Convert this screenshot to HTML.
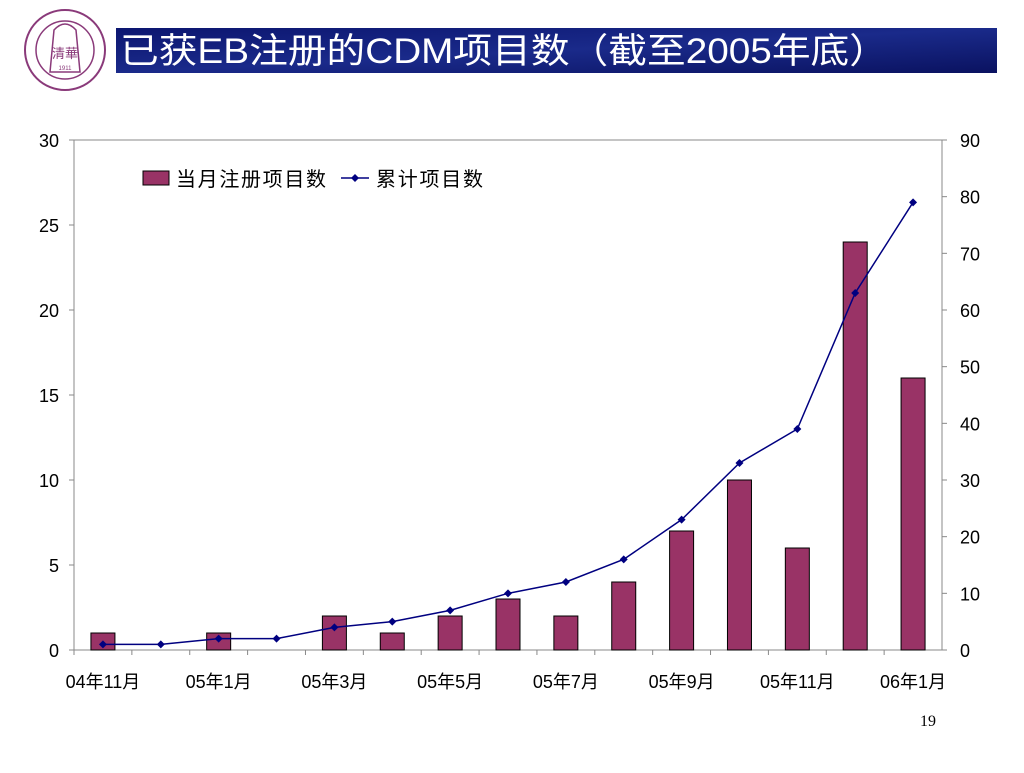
<!DOCTYPE html>
<html><head><meta charset="utf-8">
<style>
body{margin:0;width:1024px;height:768px;background:#fff;overflow:hidden;font-family:"Liberation Sans","Noto Sans CJK SC",sans-serif;}
svg text{font-family:"Liberation Sans","Noto Sans CJK SC",sans-serif;}
</style></head><body>
<svg width="1024" height="768">
<defs><linearGradient id="tg" x1="0" y1="0" x2="1" y2="1"><stop offset="0" stop-color="#0c1670"/><stop offset="0.5" stop-color="#1a2a8a"/><stop offset="1" stop-color="#0a1260"/></linearGradient></defs>
<g>
<circle cx="65" cy="50" r="40" fill="none" stroke="#8a3a7a" stroke-width="2"/>
<circle cx="65" cy="50" r="29" fill="none" stroke="#8a3a7a" stroke-width="1.5"/>
<path d="M50 72 L54 30 Q65 18 76 30 L80 72 Z" fill="none" stroke="#8a3a7a" stroke-width="1.5"/>
<text x="65" y="58" font-size="13" fill="#8a3a7a" text-anchor="middle">清華</text>
<text x="65" y="70" font-size="6" fill="#8a3a7a" text-anchor="middle">1911</text>
</g>
<rect x="116" y="28" width="881" height="45" fill="url(#tg)"/>
<text x="120" y="63" font-size="35" fill="#fff" textLength="768" lengthAdjust="spacingAndGlyphs">已获EB注册的CDM项目数（截至2005年底）</text>
<rect x="74" y="140" width="868" height="510" fill="none" stroke="#888" stroke-width="1"/>
<g id="chart"></g>
<g>
<rect x="143" y="171" width="26" height="14" fill="#993366" stroke="#000" stroke-width="1"/>
<text x="176" y="186" font-size="20" fill="#000" textLength="150">当月注册项目数</text>
<line x1="341" y1="178" x2="369" y2="178" stroke="#000080" stroke-width="1.5"/>
<path d="M355 174 L359 178 L355 182 L351 178Z" fill="#000080"/>
<text x="376" y="186" font-size="20" fill="#000" textLength="107">累计项目数</text>
</g>
<text x="936" y="726" font-size="16" fill="#000" text-anchor="end" style="font-family:'Liberation Serif',serif">19</text>
</svg>
<script>
const categories=["04年11月","04年12月","05年1月","05年2月","05年3月","05年4月","05年5月","05年6月","05年7月","05年8月","05年9月","05年10月","05年11月","05年12月","06年1月"];
const monthly=[1,0,1,0,2,1,2,3,2,4,7,10,6,24,16];
const cumulative=[1,1,2,2,4,5,7,10,12,16,23,33,39,63,79];
const leftTicks=[0,5,10,15,20,25,30];
const rightTicks=[0,10,20,30,40,50,60,70,80,90];
const L=74,R=942,T=140,B=650,NS="http://www.w3.org/2000/svg";
const step=(R-L)/categories.length;
const xc=i=>L+step*(i+0.5);
const yl=v=>B-(B-T)*v/30;
const yr=v=>B-(B-T)*v/90;
const g=document.getElementById('chart');
function el(t,a){const e=document.createElementNS(NS,t);for(const k in a)e.setAttribute(k,a[k]);g.appendChild(e);return e;}
leftTicks.forEach(v=>{el('line',{x1:L-5,x2:L,y1:yl(v),y2:yl(v),stroke:'#888'});
const t=el('text',{x:L-15,y:yl(v)+7,'font-size':18,'text-anchor':'end'});t.textContent=v;

});
rightTicks.forEach(v=>{el('line',{x1:R,x2:R+5,y1:yr(v),y2:yr(v),stroke:'#888'});
const t=el('text',{x:R+18,y:yr(v)+7,'font-size':18});t.textContent=v;

});
categories.forEach((c,i)=>{el('line',{x1:L+step*i,x2:L+step*i,y1:B,y2:B+5,stroke:'#888'});
if(i%2===0){const t=el('text',{x:xc(i),y:B+38,'font-size':18,'text-anchor':'middle'});t.textContent=c;

}});
monthly.forEach((v,i)=>{if(v<=0)return;const r=el('rect',{x:xc(i)-12,y:yl(v),width:24,height:B-yl(v),fill:'#993366',stroke:'#000','stroke-width':1});

});
const p=el('polyline',{points:cumulative.map((v,i)=>xc(i)+','+yr(v)).join(' '),fill:'none',stroke:'#000080','stroke-width':1.5});


cumulative.forEach((v,i)=>{const x=xc(i),y=yr(v);const m=el('path',{d:`M${x} ${y-4}L${x+4} ${y}L${x} ${y+4}L${x-4} ${y}Z`,fill:'#000080'});

});
</script>
</body></html>
